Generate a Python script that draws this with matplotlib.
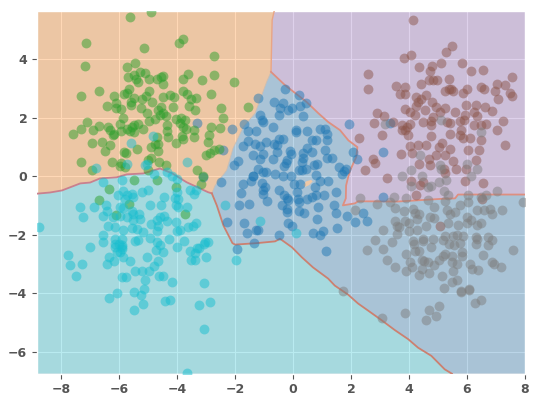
import numpy as np
import matplotlib
matplotlib.use('Agg')
import matplotlib.pyplot as plt

plt.style.use('ggplot')
plt.rcParams['font.weight'] = 'bold'

# axis range
x_min, x_max = -8.83, 8.0
y_min, y_max = -6.74, 5.65

# ===== points (x, y) =====
green_pts = np.array([
    [-5.61,5.45],[-4.89,5.63],[-7.15,4.55],[-3.79,4.70],[-3.92,4.55],[-5.15,4.37],[-2.72,4.10],[-5.45,3.87],
    [-5.71,3.72],[-7.17,3.76],[-3.61,3.50],[-2.72,3.45],[-2.02,3.21],[-3.13,3.31],[-3.81,3.32],[-4.47,3.44],
    [-5.10,3.54],[-5.27,3.55],[-5.50,3.46],[-5.69,3.40],[-4.98,3.32],[-4.70,3.34],[-4.56,3.38],[-5.42,3.34],
    [-5.33,3.23],[-4.47,3.15],[-6.69,2.91],[-7.31,2.74],[-5.66,3.00],[-5.73,2.85],[-5.82,2.81],[-4.97,2.92],
    [-5.08,2.74],[-6.16,2.75],[-6.10,2.52],[-5.48,2.69],[-5.59,2.55],[-5.59,2.43],[-5.21,2.63],[-4.87,2.53],
    [-4.50,2.71],[-4.26,2.77],[-4.11,2.72],[-3.78,2.91],[-3.64,2.83],[-3.51,2.65],[-3.35,2.68],[-2.84,2.82],
    [-3.58,2.42],[-3.39,2.28],[-4.15,2.36],[-2.48,2.34],[-1.56,2.37],[-2.41,2.00],[-6.41,2.41],[-6.11,2.32],
    [-5.94,2.29],[-5.26,2.34],[-4.57,2.37],[-4.67,2.26],[-5.03,2.15],[-4.47,2.17],[-4.39,2.05],[-4.58,2.09],
    [-4.76,1.97],[-4.96,1.89],[-4.04,1.97],[-3.88,2.01],[-3.71,1.92],[-3.90,1.83],[-5.86,1.99],[-7.12,1.85],
    [-5.98,1.78],[-5.36,1.80],[-4.35,1.75],[-3.81,1.69],[-3.69,1.63],[-2.82,1.68],[-2.51,1.66],[-6.70,1.71],
    [-7.32,1.61],[-6.90,1.58],[-6.39,1.69],[-6.31,1.58],[-5.95,1.54],[-5.71,1.61],[-5.56,1.69],[-5.48,1.75],
    [-5.62,1.54],[-5.18,1.63],[-4.33,1.54],[-5.50,1.52],[-7.59,1.45],[-6.21,1.43],[-6.16,1.44],[-4.30,1.35],
    [-3.84,1.37],[-3.40,1.58],[-3.41,1.35],[-2.89,1.43],[-3.81,1.28],[-4.70,1.35],[-6.94,1.15],[-6.58,1.19],
    [-6.31,1.06],[-6.49,0.88],[-4.03,1.14],[-2.92,1.18],[-4.76,1.12],[-4.67,1.10],[-4.89,1.00],[-4.65,0.88],
    [-5.39,0.94],[-5.84,0.82],[-5.77,0.80],[-2.56,0.92],[-2.74,0.89],[-2.86,0.81],[-3.00,0.72],[-4.90,0.64],
    [-5.01,0.55],[-7.32,0.49],[-6.24,0.50],[-5.92,0.47],[-4.63,0.50],[-4.39,0.40],[-5.96,0.35],[-5.79,0.31],
    [-6.95,0.23],[-3.30,0.22],[-5.01,0.21],[-3.11,0.01],[-3.18,-0.25],[-5.50,-0.14],[-4.70,-0.14],[-4.04,-0.37],
    [-6.33,-0.42],[-6.69,-0.82],[-5.67,-0.94],[-6.11,-1.32],[-3.74,-1.30],
])

cyan_pts = np.array([
    [-4.82,1.38],[-5.59,1.15],[-3.65,0.50],[-6.79,0.29],[-5.71,0.43],[-5.10,0.38],[-5.03,0.43],[-4.35,0.15],
    [-4.79,0.07],[-4.18,0.03],[-6.54,-0.19],[-5.89,-0.14],[-6.02,-0.62],[-5.85,-0.50],[-5.74,-0.65],[-5.56,-0.59],
    [-5.51,-0.71],[-5.22,-0.54],[-4.99,-0.46],[-5.79,-0.77],[-4.45,-0.69],[-4.56,-0.97],[-4.95,-0.97],[-6.86,-1.03],
    [-7.23,-1.37],[-7.35,-1.05],[-6.45,-0.99],[-6.43,-1.19],[-6.57,-1.34],[-5.97,-1.05],[-5.85,-1.07],[-5.56,-1.19],
    [-5.51,-1.28],[-5.30,-1.28],[-5.97,-1.34],[-6.20,-1.39],[-5.74,-1.39],[-5.53,-1.48],[-5.28,-1.47],[-6.37,-1.68],
    [-6.14,-1.74],[-5.85,-1.83],[-5.56,-1.76],[-5.39,-1.79],[-5.16,-1.91],[-4.91,-1.64],[-4.68,-1.48],[-4.59,-1.39],
    [-4.45,-1.34],[-4.33,-1.53],[-4.64,-1.68],[-4.68,-1.88],[-4.05,-1.56],[-4.01,-1.85],[-3.90,-1.82],[-3.61,-1.74],
    [-3.46,-1.71],[-3.35,-1.60],[-3.96,-1.03],[-3.67,-1.05],[-4.03,-0.97],[-4.07,-0.73],[-3.98,-0.77],[-4.01,-0.08],
    [-3.55,-0.46],[-3.33,-0.46],[-3.40,-0.59],[-4.01,-0.54],[-6.57,-1.99],[-6.57,-2.23],[-6.14,-2.14],[-5.91,-2.14],
    [-5.45,-2.19],[-5.33,-2.17],[-4.93,-2.11],[-4.28,-2.14],[-4.68,-2.25],[-4.59,-2.36],[-6.14,-2.31],[-5.91,-2.36],
    [-5.91,-2.48],[-7.00,-2.42],[-4.01,-2.42],[-3.75,-2.22],[-3.30,-2.44],[-3.03,-2.25],[-8.76,-1.73],[-7.77,-2.68],
    [-7.70,-3.04],[-7.28,-2.99],[-7.50,-3.41],[-6.33,-2.76],[-6.19,-2.88],[-6.41,-2.99],[-6.08,-2.59],[-6.13,-2.42],
    [-5.99,-2.30],[-5.90,-2.42],[-5.96,-2.59],[-5.87,-2.76],[-5.62,-2.88],[-5.04,-2.76],[-4.72,-2.51],[-4.47,-2.59],
    [-4.67,-2.88],[-4.81,-3.05],[-5.46,-3.24],[-5.21,-3.22],[-4.96,-3.22],[-5.90,-3.45],[-5.76,-3.45],[-5.09,-3.54],
    [-4.63,-3.41],[-4.47,-3.39],[-4.18,-3.60],[-3.07,-3.65],[-5.48,-3.95],[-5.13,-3.85],[-5.25,-4.04],[-6.08,-3.99],
    [-6.33,-4.14],[-5.19,-4.35],[-5.48,-4.55],[-4.43,-4.25],[-4.24,-4.21],[-3.24,-4.38],[-2.86,-4.30],[-3.08,-5.22],
    [-3.65,-6.70],[-3.56,-2.56],[-3.51,-2.85],[-3.38,-2.84],[-3.26,-2.45],[-3.38,-2.63],[-3.07,-2.31],[-2.92,-2.23],
    [-3.01,-2.76],[-2.34,-0.99],[-1.14,-1.54],[0.10,-1.93],[-1.98,-2.85],
])

blue_pts = np.array([
    [-0.26,3.00],[0.22,2.77],[0.45,2.52],[-0.66,2.55],[-1.20,2.68],[-0.36,2.51],[-0.45,2.35],[-0.16,2.28],
    [-0.05,2.34],[0.24,2.40],[-0.48,2.11],[0.36,2.05],[-1.14,2.09],[-1.08,1.94],[-1.02,1.86],[-1.69,1.80],
    [-2.09,1.63],[-1.55,1.55],[-1.28,1.55],[-0.70,1.69],[0.09,1.60],[0.09,1.50],[0.48,1.54],[0.93,1.63],
    [1.10,1.63],[1.18,1.44],[1.18,1.26],[0.78,1.26],[0.64,1.23],[1.93,1.78],[-1.56,1.21],[-1.71,1.05],
    [-1.31,1.10],[-1.14,1.03],[-0.94,1.18],[-0.66,1.12],[-0.47,1.27],[-0.33,1.29],[-0.54,1.06],[-0.54,0.83],
    [-1.02,0.78],[-1.39,0.74],[-1.14,0.60],[-0.68,0.60],[-0.10,0.86],[-0.08,0.78],[0.47,0.98],[0.36,0.80],
    [0.64,0.83],[1.10,0.91],[1.16,0.64],[1.33,0.64],[0.36,0.64],[0.30,0.49],[-0.20,0.57],[-0.24,0.46],
    [-0.30,0.34],[-1.89,0.52],[-2.03,0.40],[-1.22,0.24],[-1.02,0.15],[-0.94,0.14],[-0.62,0.09],[-0.36,0.03],
    [-0.07,0.01],[0.20,0.23],[0.30,0.23],[0.45,0.26],[0.73,0.40],[0.82,0.43],[1.60,0.32],[1.82,0.24],
    [1.68,0.09],[0.79,0.06],[-1.39,0.00],[-2.48,-0.20],[-1.71,-0.25],[-1.46,-0.16],[-1.37,0.00],[-1.79,-0.57],
    [-1.06,-0.23],[-0.96,-0.37],[-1.05,-0.46],[-1.02,-0.59],[-0.89,-0.85],[-0.47,-0.48],[-0.31,-0.65],[-0.16,-0.82],
    [-0.20,-0.73],[-0.39,-0.99],[-0.20,-1.11],[-0.20,-1.22],[0.03,-0.25],[0.24,-0.27],[0.15,-0.54],[0.18,-0.77],
    [0.22,-0.88],[0.47,-0.77],[0.64,-0.71],[0.78,-0.65],[1.07,-0.63],[0.76,-0.37],[0.93,-0.16],[1.22,-0.17],
    [1.48,-0.54],[0.85,-1.03],[1.41,-0.97],[1.47,-1.25],[1.87,-1.34],[0.20,-1.19],[0.38,-1.26],[-1.86,-0.97],
    [-1.51,-0.94],[0.84,-1.45],[1.53,-1.76],[1.02,-1.85],[0.93,-2.00],[0.68,-1.93],[-0.18,-1.59],[-0.02,-1.70],
    [-0.47,-2.00],[-1.69,-1.59],[-2.29,-1.56],[-1.60,-1.94],[-1.28,-1.83],[-1.20,-1.82],[-1.35,-2.27],[-1.94,-2.48],
    [1.13,-2.56],[-3.30,1.83],[-2.42,0.89],[-3.09,-0.02],[3.33,1.84],[3.10,0.83],[2.08,0.83],[2.22,0.61],
    [3.10,-0.71],[1.76,0.20],[2.42,-1.24],[2.56,-1.51],[2.15,-1.56],
])

brown_pts = np.array([
    [4.15,5.34],[5.49,4.46],[5.27,4.26],[4.07,4.16],[3.83,4.04],[5.09,3.88],[5.84,3.88],[4.34,3.72],
    [4.79,3.78],[4.74,3.61],[6.15,3.60],[6.55,3.65],[2.57,3.49],[7.54,3.40],[5.39,3.34],[4.68,3.31],
    [4.83,3.31],[4.97,3.28],[4.40,3.15],[3.56,3.09],[3.85,3.04],[2.60,2.98],[5.38,3.00],[5.46,2.97],
    [5.24,2.93],[5.53,2.92],[5.99,2.98],[5.85,2.85],[6.49,3.04],[6.57,3.00],[7.05,3.15],[7.32,3.12],
    [6.98,2.92],[7.47,2.85],[7.54,2.74],[7.07,2.64],[3.68,2.83],[3.85,2.81],[4.24,2.72],[4.57,2.77],
    [4.43,2.66],[4.31,2.55],[4.25,2.40],[4.79,2.55],[4.94,2.37],[5.23,2.32],[5.98,2.45],[6.32,2.45],
    [6.61,2.37],[6.86,2.24],[6.24,2.20],[6.34,2.07],[3.85,2.29],[4.02,2.20],[4.54,2.26],[5.06,2.20],
    [5.57,2.20],[5.92,2.09],[2.90,2.17],[3.13,2.05],[2.79,1.84],[4.20,2.09],[4.83,2.03],[4.77,1.89],
    [4.48,1.86],[4.02,1.80],[3.45,1.86],[3.76,1.75],[3.94,1.69],[3.76,1.58],[3.87,1.60],[3.97,1.40],
    [4.77,1.75],[5.32,1.86],[5.40,1.83],[5.75,1.89],[5.89,1.92],[6.24,1.77],[6.49,1.75],[6.67,1.80],
    [7.23,1.89],[7.04,1.60],[3.08,1.43],[2.26,1.32],[4.75,1.37],[5.43,1.46],[5.78,1.58],[5.75,1.40],
    [5.86,1.32],[6.09,1.32],[6.49,1.23],[5.13,1.14],[4.02,1.03],[4.31,1.06],[4.57,1.07],[5.02,1.00],
    [5.41,0.92],[6.04,0.89],[6.41,0.91],[7.30,1.06],[3.71,0.78],[4.10,0.80],[4.94,0.72],[5.23,0.74],
    [4.69,0.58],[4.35,0.43],[4.71,0.38],[6.32,0.57],[5.53,0.51],[2.76,0.60],[2.83,0.47],[2.48,0.21],
    [5.21,0.26],[5.63,0.26],[5.95,0.26],[5.23,0.11],[3.25,-0.06],[4.08,-0.16],[4.48,-0.19],[4.37,-0.31],
    [5.94,-0.16],[6.54,-0.22],[4.25,-0.65],[6.50,-0.76],[5.08,-1.68],
])

gray_pts = np.array([
    [3.18,1.78],[5.09,1.92],[6.49,1.52],[4.37,0.72],[4.06,0.23],[3.76,0.03],[5.06,0.38],[5.12,0.26],
    [6.00,0.43],[6.36,0.24],[6.15,0.03],[4.45,0.01],[5.02,-0.19],[5.29,-0.14],[4.08,-0.34],[4.77,-0.33],
    [4.66,-0.37],[5.20,-0.50],[5.35,-0.65],[2.30,-0.74],[3.48,-0.71],[3.91,-0.73],[4.65,-0.79],[6.04,-0.65],
    [6.47,-0.71],[6.67,-0.62],[7.04,-0.50],[7.93,-0.88],[2.91,-0.94],[3.34,-0.88],[3.52,-1.07],[3.84,-1.19],
    [4.15,-1.11],[4.21,-1.26],[4.36,-1.28],[4.29,-1.45],[4.86,-1.05],[5.24,-0.85],[5.76,-0.99],[5.32,-1.14],
    [5.41,-1.28],[5.59,-1.22],[6.01,-1.39],[6.05,-0.88],[6.33,-1.16],[6.59,-1.16],[6.79,-1.11],[6.85,-1.30],
    [7.20,-1.16],[3.52,-1.54],[3.57,-1.68],[3.67,-1.74],[3.11,-1.82],[3.86,-1.51],[4.00,-1.60],[4.00,-1.85],
    [4.26,-1.82],[4.59,-1.68],[4.72,-1.37],[4.86,-1.42],[5.36,-1.60],[5.68,-1.66],[5.99,-1.60],[6.13,-1.48],
    [6.36,-1.66],[6.47,-1.60],[2.83,-2.16],[3.40,-2.23],[3.57,-1.96],[2.56,-2.50],[3.11,-2.48],[3.23,-2.85],
    [3.52,-3.11],[3.88,-2.65],[3.88,-3.24],[4.03,-2.91],[4.09,-3.10],[4.15,-2.19],[4.18,-2.31],[4.21,-2.54],
    [4.34,-2.54],[4.49,-2.14],[4.49,-2.22],[4.82,-2.14],[4.75,-2.42],[5.24,-2.02],[5.18,-2.16],[5.39,-2.31],
    [5.53,-2.02],[5.67,-1.99],[5.85,-2.02],[5.56,-2.36],[5.76,-2.28],[6.30,-2.06],[6.36,-2.14],[6.30,-2.31],
    [6.74,-2.06],[6.85,-2.17],[6.74,-2.33],[6.56,-2.67],[5.82,-2.57],[5.82,-2.71],[5.24,-2.65],[5.18,-2.71],
    [5.03,-2.84],[4.86,-3.01],[4.44,-2.84],[4.53,-2.88],[4.67,-2.93],[4.44,-3.16],[4.36,-3.37],[4.70,-3.31],
    [5.49,-2.71],[5.49,-2.91],[5.67,-2.99],[5.53,-3.22],[6.10,-2.99],[6.16,-3.16],[6.39,-3.20],[6.87,-2.91],
    [6.94,-2.99],[7.16,-3.08],[5.13,-3.39],[5.65,-3.53],[5.47,-3.62],[5.21,-3.81],[5.78,-3.90],[6.08,-3.85],
    [7.59,-2.50],[1.71,-3.90],[3.07,-4.84],[3.87,-4.65],[4.69,-4.55],[5.03,-4.42],[4.60,-4.90],[4.94,-4.78],
    [6.29,-4.34],[6.47,-4.21],[6.07,-3.88],[5.78,-3.96],[2.13,-1.16],
])

# ===== decision boundaries =====
orange_top = [[-0.65,5.65],[-0.72,5.34],[-0.76,3.57]]
orange_blue = [[-0.76,3.57],[-0.91,3.23],[-1.08,2.77],[-1.31,2.16],[-1.72,1.68],[-2.07,0.96],[-2.29,0.21],
               [-2.69,-0.31],[-2.80,-0.58]]
orange_teal = [[-2.80,-0.58],[-2.93,-0.54],[-3.67,-0.20],[-4.18,0.11],[-4.59,0.27],[-5.17,0.10],[-5.73,0.07],
               [-6.08,-0.03],[-6.66,-0.07],[-7.00,-0.21],[-7.34,-0.24],[-7.97,-0.48],[-8.38,-0.55],[-8.83,-0.59]]
blue_teal = [[-2.80,-0.58],[-2.63,-0.99],[-2.40,-1.68],[-2.09,-2.28],[-2.00,-2.33],[-1.25,-2.28],[-0.62,-2.22],
             [-0.45,-2.13],[-0.04,-2.42],[0.30,-2.76],[0.69,-3.11],[1.21,-3.49],[1.44,-3.73],[1.90,-4.04],
             [2.24,-4.34],[2.64,-4.62],[3.05,-4.91],[3.51,-5.25],[3.97,-5.56],[4.31,-5.85],[4.77,-6.13],
             [5.23,-6.59],[5.48,-6.74]]
purple_blue = [[-0.76,3.57],[-0.28,3.12],[0.47,2.54],[0.87,2.16],[1.21,1.86],[1.62,1.58],[1.91,1.23],[2.22,1.00],
               [2.18,0.66],[1.97,0.21],[1.90,-0.03],[1.83,-0.31],[1.82,-0.75],[1.72,-0.99],[2.14,-0.92],[2.24,-0.85],
               [3.59,-0.86],[5.07,-0.77],[5.59,-0.75],[5.69,-0.62],[8.00,-0.62]]
island = [[0.35,-0.30],[0.45,-0.17],[0.62,-0.12],[0.68,-0.17],[0.55,-0.30],[0.42,-0.36]]

corner_tl = [x_min, y_max]
corner_tr = [x_max, y_max]
corner_br = [x_max, y_min]
corner_bl = [x_min, y_min]

orange_poly = [corner_tl] + orange_top + orange_blue + orange_teal
purple_poly = orange_top + purple_blue + [corner_tr]
blue_poly = orange_blue + blue_teal + [corner_br] + purple_blue[::-1]
teal_poly = orange_teal[::-1] + blue_teal + [corner_bl]

# ===== draw =====
fig = plt.figure(figsize=(5.38, 4.04), dpi=100)
ax = fig.add_axes([37/538, (404-373.7)/404, (525-37)/538, (373.7-11)/404])

for poly, col in [(orange_poly, 'tab:orange'), (purple_poly, 'tab:purple'),
                  (blue_poly, 'tab:blue'), (teal_poly, 'tab:cyan')]:
    p = np.array(poly)
    ax.fill(p[:, 0], p[:, 1], color=col, alpha=0.3, lw=0, zorder=2)
p = np.array(island)
ax.fill(p[:, 0], p[:, 1], color='#EFC8A6', lw=0, zorder=2)

# the orange/blue edge is only a faint seam in the original
for line, col, width in [(orange_top, '#E9A585', 1.0), (orange_blue, '#CDBDB0', 0.6), (orange_teal, '#C9808E', 1.3),
                         (blue_teal, '#CC8070', 1.3), (purple_blue, '#DE8F80', 1.3)]:
    p = np.array(line)
    ax.plot(p[:, 0], p[:, 1], color=col, lw=width, zorder=3)

for pts, col in [(blue_pts, 'tab:blue'), (green_pts, 'tab:green'), (brown_pts, 'tab:brown'),
                 (gray_pts, 'tab:gray'), (cyan_pts, 'tab:cyan')]:
    ax.scatter(pts[:, 0], pts[:, 1], s=50, color=col, alpha=0.5, linewidths=0, zorder=4)

ax.set_xlim(x_min, x_max)
ax.set_ylim(y_min, y_max)
ax.set_xticks(range(-8, 9, 2))
ax.set_yticks(range(-6, 5, 2))
ax.tick_params(labelsize=9, colors='#555555')

plt.savefig('out.png', dpi=100)
